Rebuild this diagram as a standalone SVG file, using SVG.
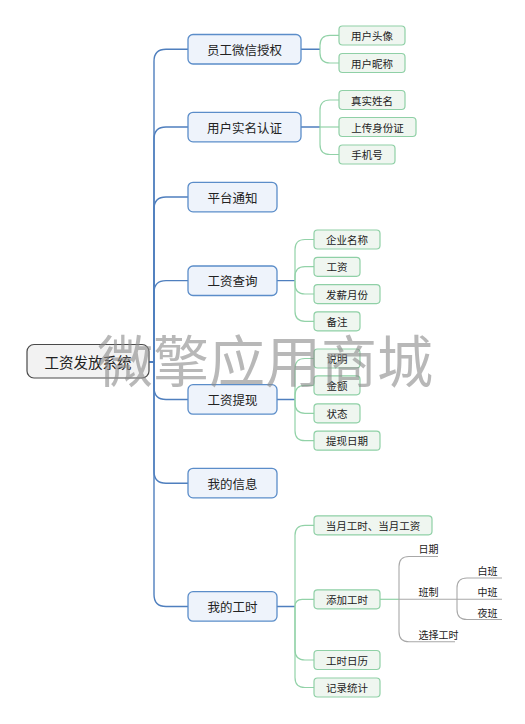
<svg xmlns="http://www.w3.org/2000/svg" width="525" height="724" viewBox="0 0 525 724">
<style>
text{font-family:"Noto Sans CJK SC","Microsoft YaHei",sans-serif;fill:#222}
.root rect{fill:#f2f2f2;stroke:#4a4a4a;stroke-width:1.2}
.root text{font-size:14.5px}
.l1 rect{fill:#eef3fb;stroke:#5b8dc9;stroke-width:1.3}
.l1 text{font-size:12.5px}
.l2 rect{fill:#eff6f0;stroke:#8fd0a6;stroke-width:1.2}
.l2 text{font-size:10.5px}
.l3 text{font-size:10px}
.mid{text-anchor:middle;dominant-baseline:central}
.cb{fill:none;stroke:#4f7fbe;stroke-width:1.4}
.cg{fill:none;stroke:#92d2a8;stroke-width:1.2}
.cy{fill:none;stroke:#a8a8a8;stroke-width:1.1}
.wm{font-size:56px;fill:#8c8c8c;fill-opacity:0.62}
</style>
<rect width="525" height="724" fill="#fff"/>
<g id="connectors">
<path class="cb" d="M149,362 H154 V61.2 Q154,49.2 166,49.2 H188"/>
<path class="cb" d="M149,362 H154 V139 Q154,127 166,127 H188"/>
<path class="cb" d="M149,362 H154 V209 Q154,197 166,197 H188"/>
<path class="cb" d="M149,362 H154 V292.6 Q154,280.6 166,280.6 H188"/>
<path class="cb" d="M149,362 H154 V387.5 Q154,399.5 166,399.5 H188"/>
<path class="cb" d="M149,362 H154 V471.2 Q154,483.2 166,483.2 H188"/>
<path class="cb" d="M149,362 H154 V594.5 Q154,606.5 166,606.5 H188"/>
<path class="cb" d="M301,49.2 H320 M301,127 H320 M277,280.6 H295 M277,399.5 H295 M277,606.5 H295"/>
<path class="cg" d="M320,49.2 V45.3 Q320,35.3 330,35.3 H339"/>
<path class="cg" d="M320,49.2 V53 Q320,63 330,63 H339"/>
<path class="cg" d="M320,127 V110 Q320,100 330,100 H339"/>
<path class="cg" d="M320,127 H339"/>
<path class="cg" d="M320,127 V144.5 Q320,154.5 330,154.5 H339"/>
<path class="cg" d="M295,280.6 V249.5 Q295,239.5 305,239.5 H314"/>
<path class="cg" d="M295,280.6 V276.7 Q295,266.7 305,266.7 H314"/>
<path class="cg" d="M295,280.6 V284 Q295,294 305,294 H314"/>
<path class="cg" d="M295,280.6 V311.3 Q295,321.3 305,321.3 H314"/>
<path class="cg" d="M295,399.5 V368.5 Q295,358.5 305,358.5 H314"/>
<path class="cg" d="M295,399.5 V395.3 Q295,385.3 305,385.3 H314"/>
<path class="cg" d="M295,399.5 V403.3 Q295,413.3 305,413.3 H314"/>
<path class="cg" d="M295,399.5 V430.7 Q295,440.7 305,440.7 H314"/>
<path class="cg" d="M295,606.5 V535.3 Q295,525.3 305,525.3 H314"/>
<path class="cg" d="M295,606.5 Q295,599.3 302.2,599.3 H314"/>
<path class="cg" d="M295,606.5 V650 Q295,660 305,660 H314"/>
<path class="cg" d="M295,606.5 V677.5 Q295,687.5 305,687.5 H314"/>
<path class="cg" d="M380,599.3 H399"/>
<path class="cy" d="M399,599.3 V566.5 Q399,556.5 409,556.5 H438"/>
<path class="cy" d="M399,599.3 H457"/>
<path class="cy" d="M399,599.3 V631.7 Q399,641.7 409,641.7 H455"/>
<path class="cy" d="M457,599.3 V588 Q457,578 467,578 H502"/>
<path class="cy" d="M457,599.3 H502"/>
<path class="cy" d="M457,599.3 V609.5 Q457,619.5 467,619.5 H502"/>
</g>
<g id="root" class="root"><rect x="27" y="344.5" width="122" height="33.5" rx="7"/><text class="mid" x="88" y="361.5">工资发放系统</text></g>
<g id="n-auth" class="l1"><rect x="188" y="34.5" width="113" height="29.5" rx="5"/><text class="mid" x="244.5" y="49.2">员工微信授权</text></g>
<g id="n-realname" class="l1"><rect x="188" y="112.3" width="113" height="29.5" rx="5"/><text class="mid" x="244.5" y="127">用户实名认证</text></g>
<g id="n-notice" class="l1"><rect x="188" y="182.3" width="89" height="29.5" rx="5"/><text class="mid" x="232.5" y="197">平台通知</text></g>
<g id="n-query" class="l1"><rect x="188" y="266" width="89" height="29.5" rx="5"/><text class="mid" x="232.5" y="280.6">工资查询</text></g>
<g id="n-withdraw" class="l1"><rect x="188" y="384.7" width="89" height="29.5" rx="5"/><text class="mid" x="232.5" y="399.5">工资提现</text></g>
<g id="n-myinfo" class="l1"><rect x="188" y="468.3" width="89" height="29.5" rx="5"/><text class="mid" x="232.5" y="483.2">我的信息</text></g>
<g id="n-myhours" class="l1"><rect x="188" y="591.7" width="89" height="29.5" rx="5"/><text class="mid" x="232.5" y="606.5">我的工时</text></g>
<g id="n-avatar" class="l2"><rect x="339" y="26" width="66" height="19" rx="3.5"/><text class="mid" x="372" y="35.3">用户头像</text></g>
<g id="n-nick" class="l2"><rect x="339" y="53.5" width="66" height="19" rx="3.5"/><text class="mid" x="372" y="63">用户昵称</text></g>
<g id="n-truename" class="l2"><rect x="339" y="90.5" width="66" height="19" rx="3.5"/><text class="mid" x="372" y="100">真实姓名</text></g>
<g id="n-idcard" class="l2"><rect x="339" y="117.5" width="77" height="19" rx="3.5"/><text class="mid" x="377.5" y="127">上传身份证</text></g>
<g id="n-phone" class="l2"><rect x="339" y="145" width="56" height="19" rx="3.5"/><text class="mid" x="367" y="154.5">手机号</text></g>
<g id="n-company" class="l2"><rect x="314" y="230" width="66" height="19" rx="3.5"/><text class="mid" x="347" y="239.5">企业名称</text></g>
<g id="n-salary" class="l2"><rect x="314" y="257.3" width="46" height="19" rx="3.5"/><text class="mid" x="337" y="266.7">工资</text></g>
<g id="n-month" class="l2"><rect x="314" y="284.6" width="66" height="19" rx="3.5"/><text class="mid" x="347" y="294">发薪月份</text></g>
<g id="n-remark" class="l2"><rect x="314" y="311.8" width="46" height="19" rx="3.5"/><text class="mid" x="337" y="321.3">备注</text></g>
<g id="n-desc" class="l2"><rect x="314" y="349" width="46" height="19" rx="3.5"/><text class="mid" x="337" y="358.5">说明</text></g>
<g id="n-amount" class="l2"><rect x="314" y="375.8" width="46" height="19" rx="3.5"/><text class="mid" x="337" y="385.3">金额</text></g>
<g id="n-status" class="l2"><rect x="314" y="403.8" width="46" height="19" rx="3.5"/><text class="mid" x="337" y="413.3">状态</text></g>
<g id="n-wdate" class="l2"><rect x="314" y="431.2" width="66" height="19" rx="3.5"/><text class="mid" x="347" y="440.7">提现日期</text></g>
<g id="n-monthly" class="l2"><rect x="314" y="515.8" width="118" height="19" rx="3.5"/><text class="mid" x="373" y="525.3">当月工时、当月工资</text></g>
<g id="n-addhours" class="l2"><rect x="314" y="589.8" width="66" height="19" rx="3.5"/><text class="mid" x="347" y="599.3">添加工时</text></g>
<g id="n-calendar" class="l2"><rect x="314" y="650.5" width="66" height="19" rx="3.5"/><text class="mid" x="347" y="660">工时日历</text></g>
<g id="n-stats" class="l2"><rect x="314" y="678" width="66" height="19" rx="3.5"/><text class="mid" x="347" y="687.5">记录统计</text></g>
<g id="n-date" class="l3"><text x="418.5" y="553">日期</text></g>
<g id="n-shift" class="l3"><text x="418.5" y="596">班制</text></g>
<g id="n-choose" class="l3"><text x="418.5" y="638.5">选择工时</text></g>
<g id="n-day" class="l3"><text x="477.5" y="575">白班</text></g>
<g id="n-middle" class="l3"><text x="477.5" y="596">中班</text></g>
<g id="n-night" class="l3"><text x="477.5" y="616.5">夜班</text></g>
<text class="wm" x="97" y="382">微擎应用商城</text>
</svg>
